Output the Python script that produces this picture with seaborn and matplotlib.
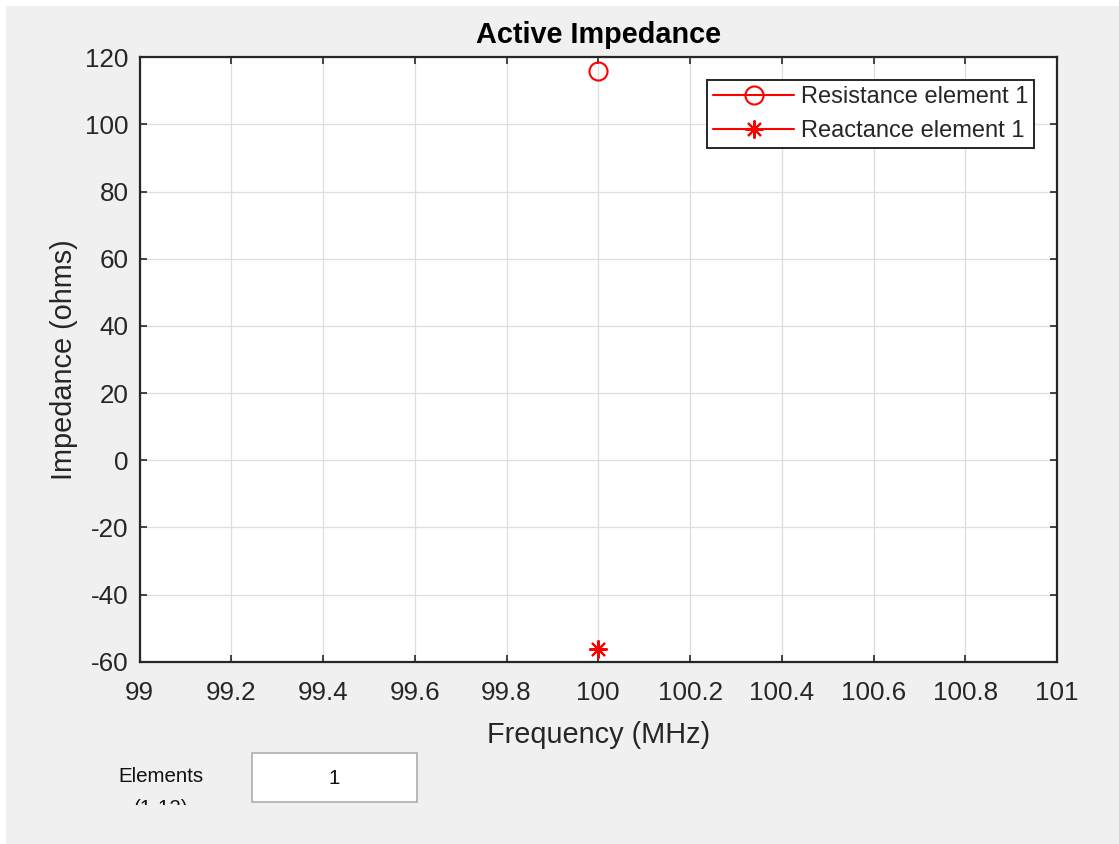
import matplotlib
matplotlib.use("Agg")
import matplotlib.pyplot as plt
import seaborn as sns
import pandas as pd
from matplotlib.patches import Rectangle
from matplotlib.transforms import Bbox, TransformedBbox, Affine2D

# ---- data ----
freq_mhz = [100.0]
resistance = [115.9]
reactance = [-56.3]
series_labels = ["Resistance element 1", "Reactance element 1"]
x_ticks = [99, 99.2, 99.4, 99.6, 99.8, 100, 100.2, 100.4, 100.6, 100.8, 101]
x_ticklabels = ["99", "99.2", "99.4", "99.6", "99.8", "100", "100.2", "100.4", "100.6", "100.8", "101"]
y_ticks = [-60, -40, -20, 0, 20, 40, 60, 80, 100, 120]

sns.set_style("ticks")
plt.rcParams['font.family'] = ['Liberation Sans', 'DejaVu Sans']
plt.rcParams['axes.unicode_minus'] = False

W, H = 1119, 844
fig = plt.figure(figsize=(W / 100, H / 100), dpi=100)
fig.patch.set_facecolor("white")
# gray figure background (white strip on top/left)
fig.patches.append(Rectangle((6 / W, 0), 1 - 6 / W, 1 - 6 / H, transform=fig.transFigure,
                             facecolor="#f0f0f0", edgecolor="none", zorder=-10))

axc = "#262626"
ax = fig.add_axes([139.5 / W, (H - 661.7) / H, (1057 - 139.5) / W, 604.4 / H])
ax.set_facecolor("white")

df_r = pd.DataFrame({"freq": freq_mhz, "val": resistance})
df_x = pd.DataFrame({"freq": freq_mhz, "val": reactance})
sns.lineplot(data=df_r, x="freq", y="val", ax=ax, color="red", lw=1.5,
             marker="o", markersize=13, markerfacecolor="none", markeredgecolor="red",
             markeredgewidth=1.5, label=series_labels[0], zorder=5)
sns.lineplot(data=df_x, x="freq", y="val", ax=ax, color="red", lw=1.5,
             marker=(8, 2, 0), markersize=13, markeredgecolor="red",
             markeredgewidth=1.5, label=series_labels[1], zorder=5)

ax.set_xlim(99, 101)
ax.set_ylim(-60, 120)
ax.set_xticks(x_ticks)
ax.set_xticklabels(x_ticklabels)
ax.set_yticks(y_ticks)
ax.grid(True, color="#dedede", lw=0.9)
ax.set_axisbelow(True)
for s in ax.spines.values():
    s.set_visible(True)
    s.set_color(axc)
    s.set_linewidth(1.6)
ax.tick_params(axis="both", which="both", direction="in", length=5, width=1.2,
               color=axc, labelcolor=axc, labelsize=18.7, top=True, right=True, pad=8)
ax.tick_params(axis="x", pad=13.8)

ax.set_xlabel("Frequency (MHz)", fontsize=20.8, color=axc, labelpad=11.8)
ax.set_ylabel("Impedance (ohms)", fontsize=20.8, color=axc, labelpad=5)
ax.set_title("Active Impedance", fontsize=20.8, fontweight="bold", color="black", pad=10.3)

leg = ax.legend(loc="upper right", bbox_to_anchor=(1034 / W, (H - 80) / H),
                bbox_transform=fig.transFigure, fontsize=17, frameon=True, fancybox=False,
                framealpha=1, edgecolor=axc, handlelength=3.4, handletextpad=0.3,
                labelspacing=0.52, borderpad=0.25, borderaxespad=0, numpoints=1)
leg.get_frame().set_linewidth(1.4)
for t in leg.get_texts():
    t.set_color(axc)

# UI controls below the axes
fig.text(161 / W, 1 - 777 / H, "Elements", fontsize=14.8, color="#111111",
         ha="center", va="center")
t2 = fig.text(161 / W, 1 - 808 / H, "(1-12)", fontsize=14.8, color="#111111",
              ha="center", va="center")
clip = Bbox.from_extents(0, H - 805, W, H)
t2.set_clip_box(TransformedBbox(clip, Affine2D().scale(1)))
t2.set_clip_on(True)
fig.patches.append(Rectangle((252 / W, 1 - 802 / H), 165 / W, 49 / H, transform=fig.transFigure,
                             facecolor="white", edgecolor="#adadad", lw=1.2, zorder=2))
fig.text(334 / W, 1 - 778 / H, "1", fontsize=14.8, color="#111111", ha="center", va="center",
         zorder=3)

fig.savefig("out.png", dpi=100, facecolor=fig.get_facecolor())
